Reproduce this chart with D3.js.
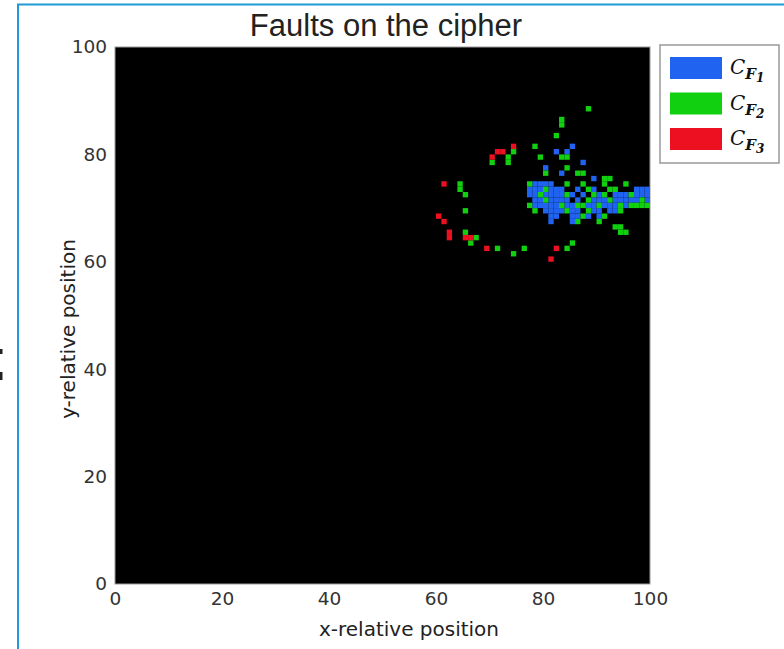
<!DOCTYPE html>
<html>
<head>
<meta charset="utf-8">
<script src="https://d3js.org/d3.v7.min.js"></script>
<style>
  body { margin: 0; background: #fff; }
</style>
</head>
<body>
<div id="graph"></div>
<script>

// Fault cells, [x, y] of the lower-left corner of each 1x1 cell
var faultsF1 = [
  [85,81],[82,80],[84,80],[87,78],[80,77],[83,76],[89,75],
  [78,74],[79,74],[80,74],[81,74],
  [77,73],[78,73],[79,73],[81,73],[82,73],[83,73],[86,73],[89,73],[97,73],[98,73],[99,73],
  [77,72],[78,72],[80,72],[81,72],[82,72],[83,72],[85,72],[87,72],[90,72],[93,72],[94,72],[95,72],[97,72],[98,72],[99,72],
  [78,71],[79,71],[81,71],[82,71],[83,71],[84,71],[86,71],[89,71],[90,71],[91,71],[93,71],[94,71],[95,71],[96,71],[97,71],[99,71],
  [78,70],[79,70],[80,70],[81,70],[82,70],[84,70],[85,70],[88,70],[89,70],[91,70],[92,70],[93,70],[95,70],
  [80,69],[81,69],[82,69],[83,69],[85,69],[86,69],[89,69],[90,69],[92,69],[93,69],
  [81,68],[82,68],[85,68],[86,68],[88,68],[90,68],
  [81,67],[85,67]
]

var faultsF2 = [
  [88,88],[83,86],[83,85],[82,83],[78,81],[74,80],[73,79],[73,78],[70,78],
  [79,79],[83,79],[84,79],[84,77],[80,76],[86,76],[87,76],[91,75],[92,75],
  [77,74],[84,74],[87,74],[91,74],[95,74],
  [80,73],[88,73],[92,73],[93,73],
  [79,72],[84,72],[89,72],[91,72],[96,72],
  [80,71],[88,71],[92,71],[98,71],
  [77,70],[83,70],[86,70],[87,70],[90,70],[94,70],[96,70],[97,70],[98,70],[99,70],
  [78,69],[84,69],[88,69],[94,69],
  [87,68],[91,68],[86,67],[90,67],
  [93,66],[94,66],[94,65],[95,65],
  [85,63],[84,62],[76,62],[74,61],[71,62],[66,63],[67,64],[65,65],
  [65,69],[65,72],[64,73],[64,74]
]

var faultsF3 = [
  [74,81],[71,80],[72,80],[70,79],[61,74],[60,68],[61,67],
  [62,65],[62,64],[65,64],[66,64],[69,62],[82,62],[81,60]
]

var seriesNames = ['1', '2', '3']
var seriesColors = ['#1f63f0', '#10d010', '#ec1020']
var xTicks = [0, 20, 40, 60, 80, 100]
var yTicks = [0, 20, 40, 60, 80, 100]

var width = 784, height = 649

var svg = d3.select('#graph')
  .append('svg')
  .attr('width', width)
  .attr('height', height)

// blue frame around the figure
svg.append('rect')
  .attr('x', 18).attr('y', 4.5)
  .attr('width', 800).attr('height', 700)
  .attr('fill', 'none')
  .attr('stroke', '#1f9ad6')
  .attr('stroke-width', 2)

// small marks at the left edge
svg.append('rect').attr('x', 0).attr('y', 349).attr('width', 2.5).attr('height', 5).attr('fill', '#222')
svg.append('rect').attr('x', 0).attr('y', 372).attr('width', 2.5).attr('height', 8).attr('fill', '#222')

var x = d3.scaleLinear().domain([0, 100]).range([115, 650])
var y = d3.scaleLinear().domain([0, 100]).range([584, 47])

// black background of the image
svg.append('rect')
  .attr('x', x(0)).attr('y', y(100))
  .attr('width', x(100) - x(0))
  .attr('height', y(0) - y(100))
  .attr('fill', '#000')
  .attr('stroke', '#999')
  .attr('stroke-width', 1)

var series = [faultsF1, faultsF2, faultsF3]

series.forEach(function(cells, i) {
  svg.append('g')
    .selectAll('rect')
    .data(cells)
    .join('rect')
      .attr('x', function(d) { return x(d[0]) })
      .attr('y', function(d) { return y(d[1] + 1) })
      .attr('width', function(d) { return x(d[0] + 1) - x(d[0]) })
      .attr('height', function(d) { return y(d[1]) - y(d[1] + 1) })
      .attr('fill', seriesColors[i])
})

// axes
svg.append('g')
  .attr('transform', `translate(0, ${y(0)})`)
  .call(d3.axisBottom(x).tickValues(xTicks).tickSize(0).tickPadding(8))
svg.append('g')
  .attr('transform', `translate(${x(0)}, 0)`)
  .call(d3.axisLeft(y).tickValues(yTicks).tickSize(0).tickPadding(8))

svg.selectAll('.domain').remove()
svg.selectAll('.tick text')
  .attr('font-family', 'DejaVu Sans')
  .attr('font-size', 18.5)
  .attr('fill', '#333')

// axis labels
svg.append('text')
  .attr('x', 409).attr('y', 636)
  .attr('text-anchor', 'middle')
  .attr('font-family', 'DejaVu Sans')
  .attr('font-size', 20)
  .attr('fill', '#222')
  .text('x-relative position')

svg.append('text')
  .attr('transform', 'translate(75, 329) rotate(-90)')
  .attr('text-anchor', 'middle')
  .attr('font-family', 'DejaVu Sans')
  .attr('font-size', 20)
  .attr('fill', '#222')
  .text('y-relative position')

// title
svg.append('text')
  .attr('x', 386).attr('y', 36)
  .attr('text-anchor', 'middle')
  .attr('font-family', 'Liberation Sans')
  .attr('font-size', 31)
  .attr('fill', '#222')
  .text('Faults on the cipher')

// legend
var legend = svg.append('g')
legend.append('rect')
  .attr('x', 660).attr('y', 45)
  .attr('width', 119).attr('height', 118)
  .attr('fill', '#fff')
  .attr('stroke', '#999')
  .attr('stroke-width', 1.5)

var items = legend.selectAll('g.item')
  .data(seriesNames)
  .join('g')
  .attr('class', 'item')
  .attr('transform', function(d, i) { return `translate(0, ${i * 35.5})` })

items.append('rect')
  .attr('x', 670).attr('y', 57)
  .attr('width', 52).attr('height', 22)
  .attr('fill', function(d, i) { return seriesColors[i] })

var lbl = items.append('text')
  .attr('x', 730).attr('y', 74)
  .attr('font-family', 'DejaVu Serif')
  .attr('font-style', 'italic')
  .attr('fill', '#111')
lbl.append('tspan').attr('font-size', 20).text('C')
lbl.append('tspan').attr('font-size', 15).attr('dy', 5).attr('font-weight', 'bold').text('F')
lbl.append('tspan').attr('font-size', 12).attr('dy', 3).attr('font-weight', 'bold').text(function(d) { return d })

</script>
</body>
</html>
